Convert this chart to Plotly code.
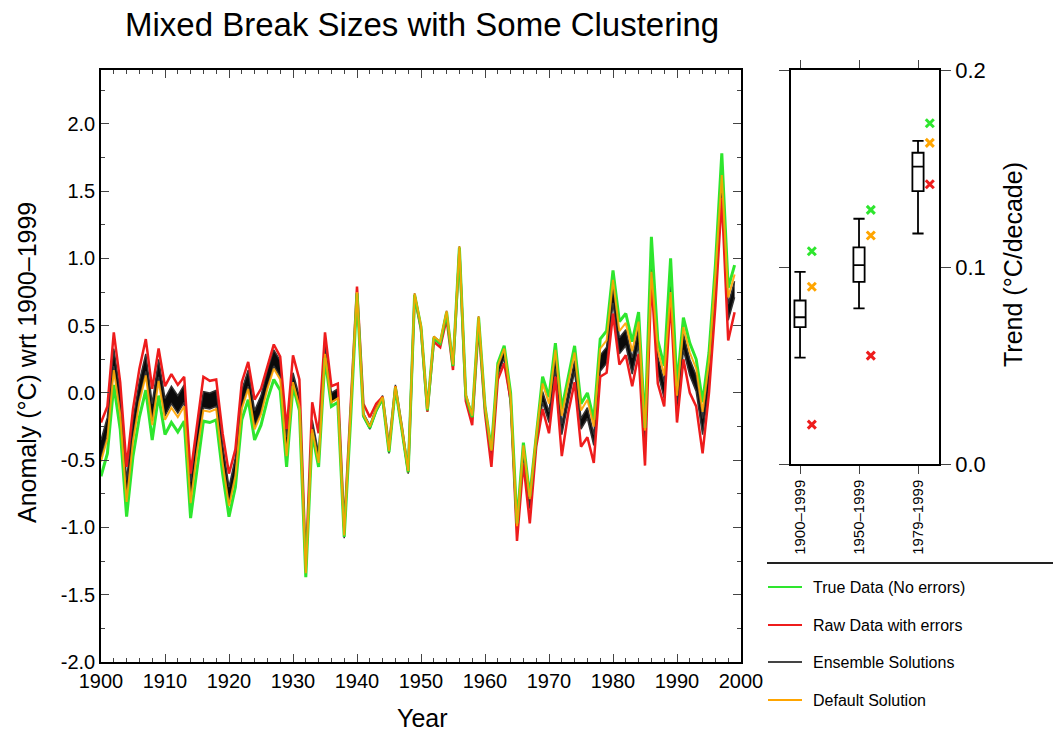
import plotly.graph_objects as go

# ---------------- data ----------------
years = list(range(1900, 2000))

true_data = [
    -0.62, -0.45, 0.06, -0.27, -0.92, -0.47, -0.18, 0.02, -0.35, -0.02,
    -0.31, -0.22, -0.29, -0.21, -0.93, -0.55, -0.21, -0.22, -0.20, -0.60,
    -0.92, -0.70, -0.20, -0.05, -0.35, -0.24, -0.05, 0.10, 0.02, -0.55,
    0.05, -0.13, -1.37, -0.30, -0.55, 0.26, -0.10, -0.07, -1.07, -0.20,
    0.74, -0.17, -0.26, -0.13, -0.04, -0.44, 0.04, -0.27, -0.59, 0.73,
    0.49, -0.13, 0.41, 0.37, 0.60, 0.20, 1.08, -0.02, -0.18, 0.56,
    -0.10, -0.42, 0.22, 0.35, 0.00, -0.97, -0.37, -0.77, -0.30, 0.12,
    -0.03, 0.37, -0.12, 0.12, 0.35, -0.08, 0.00, -0.20, 0.40, 0.46,
    0.91, 0.53, 0.59, 0.38, 0.60, -0.26, 1.16, 0.39, 0.20, 1.00,
    0.05, 0.56, 0.37, 0.25, -0.07, 0.30, 0.95, 1.78, 0.78, 0.95,
]

raw_data = [
    -0.22, -0.10, 0.45, 0.08, -0.55, -0.12, 0.18, 0.40, 0.03, 0.33,
    0.05, 0.14, 0.06, 0.12, -0.60, -0.22, 0.12, 0.09, 0.10, -0.30,
    -0.60, -0.42, 0.08, 0.23, -0.05, 0.03, 0.20, 0.36, 0.27, -0.27,
    0.28, 0.10, -1.28, -0.07, -0.30, 0.45, 0.05, 0.07, -1.00, -0.12,
    0.79, -0.08, -0.18, -0.08, -0.03, -0.40, 0.05, -0.25, -0.59, 0.72,
    0.47, -0.14, 0.38, 0.34, 0.55, 0.17, 1.06, -0.06, -0.24, 0.50,
    -0.15, -0.55, 0.10, 0.22, -0.05, -1.10, -0.52, -0.97, -0.40, -0.12,
    -0.30, 0.12, -0.47, -0.15, 0.08, -0.40, -0.33, -0.52, 0.12, 0.15,
    0.59, 0.21, 0.28, 0.05, 0.29, -0.54, 0.85, 0.07, -0.10, 0.69,
    -0.22, 0.25, 0.00, -0.10, -0.45, 0.00, 0.65, 1.45, 0.39, 0.60,
]

ensemble_low = [
    -0.48, -0.31, 0.20, -0.13, -0.78, -0.33, -0.04, 0.16, -0.21, 0.12,
    -0.17, -0.08, -0.15, -0.07, -0.79, -0.41, -0.11, -0.12, -0.10, -0.50,
    -0.82, -0.60, -0.10, 0.05, -0.25, -0.14, 0.05, 0.20, 0.12, -0.45,
    0.08, -0.10, -1.35, -0.27, -0.52, 0.29, -0.07, -0.04, -1.08, -0.21,
    0.73, -0.18, -0.27, -0.14, -0.05, -0.45, 0.03, -0.28, -0.60, 0.72,
    0.48, -0.14, 0.40, 0.36, 0.59, 0.19, 1.07, -0.03, -0.19, 0.55,
    -0.11, -0.47, 0.13, 0.26, -0.09, -1.06, -0.46, -0.86, -0.39, -0.07,
    -0.22, 0.18, -0.31, -0.07, 0.16, -0.27, -0.19, -0.39, 0.16, 0.22,
    0.67, 0.29, 0.35, 0.14, 0.36, -0.42, 0.88, 0.15, -0.04, 0.78,
    -0.19, 0.32, 0.13, 0.01, -0.31, 0.06, 0.71, 1.56, 0.54, 0.71,
]

ensemble_high = [
    -0.35, -0.18, 0.33, 0.00, -0.65, -0.20, 0.09, 0.29, -0.08, 0.25,
    -0.04, 0.05, -0.02, 0.06, -0.66, -0.28, 0.01, 0.00, 0.02, -0.38,
    -0.70, -0.48, 0.02, 0.17, -0.13, -0.02, 0.17, 0.32, 0.24, -0.33,
    0.15, -0.03, -1.30, -0.20, -0.45, 0.36, 0.00, 0.03, -1.05, -0.18,
    0.76, -0.15, -0.24, -0.11, -0.02, -0.42, 0.06, -0.25, -0.58, 0.74,
    0.50, -0.12, 0.42, 0.38, 0.61, 0.21, 1.09, -0.01, -0.17, 0.57,
    -0.09, -0.43, 0.18, 0.31, -0.04, -1.01, -0.41, -0.81, -0.34, 0.01,
    -0.14, 0.26, -0.23, 0.01, 0.24, -0.19, -0.11, -0.31, 0.28, 0.34,
    0.79, 0.41, 0.47, 0.26, 0.48, -0.32, 1.02, 0.27, 0.08, 0.90,
    -0.07, 0.44, 0.25, 0.13, -0.19, 0.18, 0.83, 1.68, 0.66, 0.83,
]

default_solution = [
    -0.51, -0.34, 0.17, -0.16, -0.81, -0.36, -0.07, 0.13, -0.24, 0.09,
    -0.20, -0.11, -0.18, -0.10, -0.82, -0.44, -0.13, -0.14, -0.12, -0.52,
    -0.84, -0.62, -0.12, 0.03, -0.27, -0.16, 0.03, 0.18, 0.10, -0.47,
    0.08, -0.10, -1.34, -0.27, -0.52, 0.29, -0.07, -0.04, -1.06, -0.19,
    0.75, -0.16, -0.25, -0.12, -0.03, -0.43, 0.05, -0.26, -0.58, 0.74,
    0.50, -0.12, 0.42, 0.38, 0.61, 0.21, 1.09, -0.01, -0.17, 0.57,
    -0.09, -0.43, 0.20, 0.33, -0.02, -0.99, -0.39, -0.79, -0.32, 0.07,
    -0.08, 0.32, -0.17, 0.07, 0.30, -0.13, -0.05, -0.25, 0.33, 0.39,
    0.84, 0.46, 0.52, 0.31, 0.53, -0.28, 0.90, 0.32, 0.13, 0.75,
    -0.02, 0.49, 0.30, 0.18, -0.14, 0.23, 0.88, 1.62, 0.71, 0.88,
]

# trend summary per period (degC / decade)
periods = ["1900\u20131999", "1950\u20131999", "1979\u20131999"]
period_pos = [1, 2, 3]
ens_lower_whisker = [0.054, 0.079, 0.117]
ens_q1 = [0.0695, 0.0925, 0.1385]
ens_median = [0.0745, 0.101, 0.151]
ens_q3 = [0.083, 0.110, 0.158]
ens_upper_whisker = [0.0975, 0.1245, 0.164]
true_trend = [0.108, 0.129, 0.173]
default_trend = [0.090, 0.116, 0.163]
raw_trend = [0.020, 0.055, 0.142]

y_ticks = [-2.0, -1.5, -1.0, -0.5, 0.0, 0.5, 1.0, 1.5, 2.0]
y_ticktext = ["-2.0", "-1.5", "-1.0", "-0.5", "0.0", "0.5", "1.0", "1.5", "2.0"]
x_ticks = list(range(1900, 2001, 10))
trend_ticks = [0.0, 0.1, 0.2]
trend_ticktext = ["0.0", "0.1", "0.2"]

# ---------------- styling ----------------
FONT = "Liberation Sans, Arial, Helvetica, sans-serif"
GREEN = "#2ee62e"
RED = "#ee1c1c"
ORANGE = "#ffa500"
BLACK = "#000000"
W, H = 1053, 737


def px_x(p):
    return p / W


def px_y(p):
    return 1 - p / H


fig = go.Figure()

# ensemble envelope (drawn as a filled dark band)
fig.add_trace(go.Scatter(x=years, y=ensemble_low, mode="lines",
                         line=dict(color="#333333", width=1.5),
                         showlegend=False, hoverinfo="skip",
                         xaxis="x", yaxis="y"))
fig.add_trace(go.Scatter(x=years, y=ensemble_high, mode="lines",
                         line=dict(color="#333333", width=1.5),
                         fill="tonexty", fillcolor="rgba(10,10,10,1)",
                         showlegend=False, hoverinfo="skip",
                         xaxis="x", yaxis="y"))
fig.add_trace(go.Scatter(x=years, y=raw_data, mode="lines",
                         line=dict(color=RED, width=2.5),
                         showlegend=False, xaxis="x", yaxis="y"))
fig.add_trace(go.Scatter(x=years, y=true_data, mode="lines",
                         line=dict(color=GREEN, width=3),
                         showlegend=False, xaxis="x", yaxis="y"))
fig.add_trace(go.Scatter(x=years, y=default_solution, mode="lines",
                         line=dict(color=ORANGE, width=2),
                         opacity=0.9,
                         showlegend=False, xaxis="x", yaxis="y"))

# trend box plots
fig.add_trace(go.Box(x=period_pos, q1=ens_q1, median=ens_median, q3=ens_q3,
                     lowerfence=ens_lower_whisker, upperfence=ens_upper_whisker,
                     width=0.19, whiskerwidth=1, fillcolor="white",
                     line=dict(color=BLACK, width=1.8), boxpoints=False,
                     showlegend=False, xaxis="x2", yaxis="y2"))

marker_offset = [p + 0.2 for p in period_pos]
for vals, col in ((true_trend, GREEN), (default_trend, ORANGE), (raw_trend, RED)):
    fig.add_trace(go.Scatter(x=marker_offset, y=vals, mode="markers",
                             marker=dict(symbol="x-thin", size=8,
                                         line=dict(color=col, width=3)),
                             showlegend=False, xaxis="x2", yaxis="y2"))

fig.update_layout(
    width=W, height=H,
    margin=dict(l=0, r=0, t=0, b=0, autoexpand=False),
    paper_bgcolor="white", plot_bgcolor="white",
    font=dict(family=FONT, color="black"),
    xaxis=dict(
        domain=[px_x(101), px_x(741)], range=[1900, 2000],
        tickvals=x_ticks, ticks="inside", ticklen=8, tickwidth=1.2,
        minor=dict(ticks="inside", dtick=2, ticklen=4, tickwidth=1),
        showline=True, linecolor=BLACK, linewidth=1.5, mirror="ticks",
        showgrid=False, zeroline=False, tickfont=dict(size=20),
        automargin=False,
    ),
    yaxis=dict(
        domain=[px_y(662), px_y(70)], range=[-2.0, 2.4],
        tickvals=y_ticks, ticktext=y_ticktext,
        ticks="inside", ticklen=8, tickwidth=1.2,
        minor=dict(ticks="inside", dtick=0.25, ticklen=4, tickwidth=1),
        showline=True, linecolor=BLACK, linewidth=1.5, mirror="ticks",
        showgrid=False, zeroline=False, tickfont=dict(size=20),
        ticklabelstandoff=0, automargin=False,
    ),
    xaxis2=dict(
        domain=[px_x(791), px_x(939)], range=[0.847, 3.356],
        tickvals=period_pos, ticktext=periods, tickangle=-90,
        ticks="outside", ticklen=8, tickwidth=1.2,
        showline=True, linecolor=BLACK, linewidth=1.5, mirror="ticks",
        showgrid=False, zeroline=False, tickfont=dict(size=15),
        anchor="y2", automargin=False,
    ),
    yaxis2=dict(
        domain=[px_y(464), px_y(70)], range=[0, 0.2],
        tickvals=trend_ticks, ticktext=trend_ticktext, side="right",
        ticks="outside", ticklen=10, tickwidth=1.2,
        showline=True, linecolor=BLACK, linewidth=1.5, mirror="ticks",
        showgrid=False, zeroline=False, tickfont=dict(size=22),
        anchor="x2", automargin=False,
    ),
)

annotations = [
    dict(text="Mixed Break Sizes with Some Clustering", x=px_x(422), y=px_y(25),
         font=dict(size=33)),
    dict(text="Year", x=px_x(422), y=px_y(718), font=dict(size=25)),
    dict(text="Anomaly (\u00b0C) wrt 1900\u20131999", x=px_x(27), y=px_y(363),
         textangle=-90, font=dict(size=25)),
    dict(text="Trend (\u00b0C/decade)", x=px_x(1013), y=px_y(265),
         textangle=-90, font=dict(size=25)),
]
for a in annotations:
    a.update(xref="paper", yref="paper", showarrow=False,
             xanchor="center", yanchor="middle")

# legend block
legend_items = [
    ("True Data (No errors)", GREEN, 587),
    ("Raw Data with errors", RED, 625),
    ("Ensemble Solutions", "#444444", 662),
    ("Default Solution", ORANGE, 700),
]
shapes = [dict(type="line", xref="paper", yref="paper",
               x0=px_x(767), x1=1.0, y0=px_y(563), y1=px_y(563),
               line=dict(color="#222222", width=2))]
for label, col, ypix in legend_items:
    shapes.append(dict(type="line", xref="paper", yref="paper",
                       x0=px_x(768), x1=px_x(802), y0=px_y(ypix), y1=px_y(ypix),
                       line=dict(color=col, width=2)))
    annotations.append(dict(text=label, xref="paper", yref="paper",
                            x=px_x(811), y=px_y(ypix), xanchor="left",
                            yanchor="middle", showarrow=False,
                            font=dict(size=16)))

fig.update_layout(annotations=annotations, shapes=shapes)

fig.write_html("out.html")
